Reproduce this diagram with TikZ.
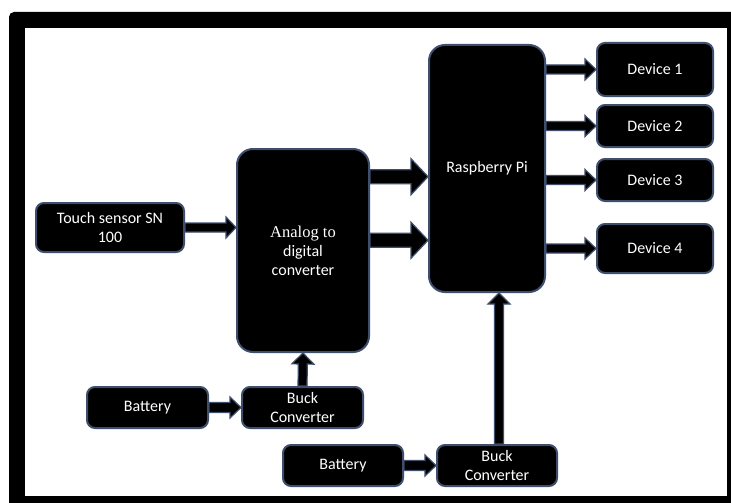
\documentclass[tikz,border=0pt]{standalone}
\usepackage{fontspec}
\setmainfont{Carlito}
\newfontfamily\adcfont{Liberation Serif}
\usetikzlibrary{calc}

\definecolor{edge}{RGB}{62,78,108}

% block arrow: from, to, half shaft, half head, head length
\newcommand{\blockarrow}[5]{%
  \coordinate (ba) at ($(#2)!#5!(#1)$);
  \filldraw[flow] ($(#1)!#3!90:(#2)$) -- ($(ba)!#3!90:(#2)$) -- ($(ba)!#4!90:(#2)$)
    -- (#2) -- ($(ba)!#4!-90:(#2)$) -- ($(ba)!#3!-90:(#2)$)
    -- ($(#1)!#3!-90:(#2)$) -- cycle;}

\begin{document}
\begin{tikzpicture}[
  x=1pt, y=-1pt,
  font=\fontsize{16}{19}\selectfont,
  box/.style={draw=edge, line width=2pt, fill=black, text=white,
    rounded corners=8pt, align=center, inner sep=2pt},
  tall/.style={box, rounded corners=16pt},
  flow/.style={draw=edge, line width=1.2pt, fill=black, line join=miter}
]
  \useasboundingbox (0,0) rectangle (731,503);
  \clip (0,0) rectangle (731,503);

  % frame
  \fill[black, rounded corners=5pt] (9,12) rectangle (750,520);
  \fill[white] (25,28) rectangle (727,496);

  % input side
  \node[box, minimum width=148pt, minimum height=49pt] (touch) at (110,227.5)
    {Touch sensor SN\\100};
  \node[tall, minimum width=132pt, minimum height=203pt] (adc) at (303,250.5)
    {\adcfont\fontsize{16.5}{20.5}\selectfont Analog to\\digital\\converter};
  \node[tall, minimum width=116pt, minimum height=247pt] (rpi) at (487,168.5)
    {Raspberry Pi};

  % outputs
  \node[box, minimum width=116pt, minimum height=53pt] (dev1) at (655,69.5) {Device 1};
  \node[box, minimum width=116pt, minimum height=42pt] (dev2) at (655,126) {Device 2};
  \node[box, minimum width=116pt, minimum height=42pt] (dev3) at (655,180) {Device 3};
  \node[box, minimum width=116pt, minimum height=49pt] (dev4) at (655,248.5) {Device 4};

  % power
  \node[box, minimum width=121pt, minimum height=41pt] (bat1) at (147.5,407.5) {Battery};
  \node[box, minimum width=121pt, minimum height=41pt] (buck1) at (302.5,407.5)
    {Buck\\Converter};
  \node[box, minimum width=120pt, minimum height=41pt] (bat2) at (343,465.5) {Battery};
  \node[box, minimum width=120pt, minimum height=41pt] (buck2) at (497,465.5)
    {Buck\\Converter};

  % connectors
  \coordinate (adcin) at (touch.east -| adc.west);
  \blockarrow{touch.east}{adcin}{4.5pt}{10.5pt}{10pt}

  \coordinate (out1) at ($(adc.north east)!0.14!(adc.south east)$);
  \coordinate (out2) at ($(adc.north east)!0.45!(adc.south east)$);
  \coordinate (in1) at (out1 -| rpi.west);
  \coordinate (in2) at (out2 -| rpi.west);
  \blockarrow{out1}{in1}{7pt}{18pt}{17pt}
  \blockarrow{out2}{in2}{7pt}{18pt}{17pt}

  \foreach \d in {dev1,dev2,dev3,dev4}{
    \coordinate (src) at (\d.west -| rpi.east);
    \blockarrow{src}{\d.west}{4.5pt}{10.5pt}{11pt}
  }

  \blockarrow{bat1.east}{buck1.west}{5pt}{10.5pt}{11pt}
  \blockarrow{bat2.east}{buck2.west}{5pt}{10.5pt}{11pt}
  \blockarrow{buck1.north}{adc.south}{4.5pt}{11pt}{11pt}
  \coordinate (rpiin) at (buck2.north -| 499,0);
  \coordinate (rpiend) at (rpiin |- rpi.south);
  \blockarrow{rpiin}{rpiend}{4.5pt}{11pt}{11pt}
\end{tikzpicture}
\end{document}
